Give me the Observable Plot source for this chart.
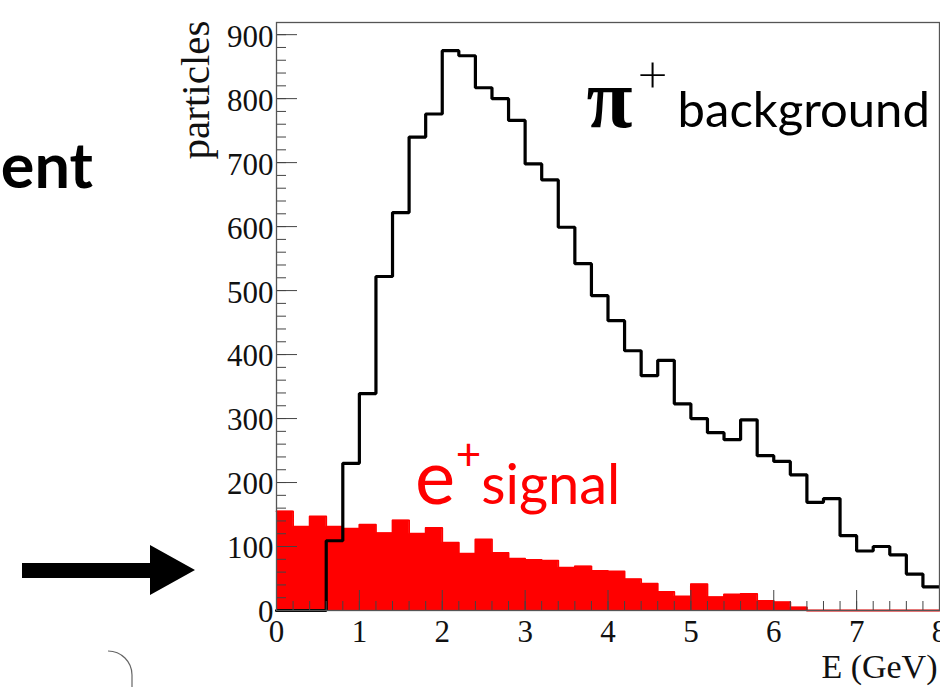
<!DOCTYPE html>
<html><head><meta charset="utf-8">
<script src="https://cdn.jsdelivr.net/npm/d3@7"></script>
<script src="https://cdn.jsdelivr.net/npm/@observablehq/plot@0.6"></script>
<style>
html,body{margin:0;padding:0;background:#fff;}
#wrap{position:relative;width:940px;height:687px;overflow:hidden;background:#fff;}
#chart{position:absolute;left:0;top:0;}
#deco{position:absolute;left:0;top:0;pointer-events:none;}
</style></head><body>
<div id="wrap"><div id="chart"></div>
<svg id="deco" width="940" height="687">
  <text x="93" y="188" text-anchor="end" font-family="Lato" font-weight="bold" font-size="63" fill="#000">ent</text>
  <polygon points="22,563 150,563 150,545 195,570 150,595 150,578 22,578" fill="#000"/>
  <path d="M108,651 A24,24 0 0 1 132,675 L132,687" fill="none" stroke="#666" stroke-width="1.2"/>
</svg>
</div>
<script>
// bin lower edges (GeV), bin width 0.2
const binEdges = [0,0.2,0.4,0.6,0.8,1.0,1.2,1.4,1.6,1.8,2.0,2.2,2.4,2.6,2.8,3.0,3.2,3.4,3.6,3.8,
                  4.0,4.2,4.4,4.6,4.8,5.0,5.2,5.4,5.6,5.8,6.0,6.2,6.4,6.6,6.8,7.0,7.2,7.4,7.6,7.8];
const binEnd = 8;
// pi+ background counts
const pionCounts = [0,0,0,109,230,339,522,622,740,776,875,867,817,800,766,698,673,599,542,492,
                    453,406,367,391,323,300,278,267,298,242,233,212,169,175,117,93,100,87,57,37];
// e+ signal counts
const positronCounts = [155,131,147,131,128,134,121,141,120,129,106,89,111,90,81,79,78,67,69,62,
                        61,49,42,29,22,41,21,25,26,15,13,5,0,0,0,0,0,0,0,0];
const yMajor = [0,100,200,300,400,500,600,700,800,900];
const xMajor = [0,1,2,3,4,5,6,7,8];
const yMinor = d3.range(0, 920, 20);
const xMinor = d3.range(0, 8.01, 0.2);

// annotation anchors (data coords)
const piLabel = [{x:3.74, y:755}];
const piPlus = [{x:4.537, y:836}];
const bgLabel = [{x:4.84, y:755}];
const eLabel = [{x:1.67, y:167}];
const ePlus = [{x:2.317, y:241}];
const sigLabel = [{x:2.47, y:167}];

const toPts = counts => binEdges.map((x,i)=>({x, y:counts[i]})).concat([{x:binEnd, y:counts[counts.length-1]}]);
const piPts = toPts(pionCounts);
const ePts = toPts(positronCounts);

const W = 940, H = 687, mL = 276, mR = 1, mT = 22, mB = 77;
const pw = W - mL - mR, ph = H - mT - mB;
const serif = "'Liberation Serif', 'Times New Roman', serif";
const sans = "Lato, 'Open Sans', sans-serif";

const chart = Plot.plot({
  width: W, height: H,
  marginLeft: mL, marginRight: mR, marginTop: mT, marginBottom: mB,
  x: {domain: [0, 8]},
  y: {domain: [0, 919]},
  style: {fontFamily: serif, fontSize: "31px", background: "transparent", color: "#111", overflow: "visible"},
  marks: [
    Plot.areaY(ePts, {x: "x", y: "y", curve: "step-after", fill: "#ff0000"}),
    Plot.line(ePts, {x: "x", y: "y", curve: "step-after", stroke: "#ff0000", strokeWidth: 1.8}),
    Plot.line(piPts, {x: "x", y: "y", curve: "step-after", stroke: "#000", strokeWidth: 3.2, strokeLinejoin: "miter"}),
    Plot.tickY(yMinor, {y: d => d, insetRight: pw - 10, stroke: "#444", strokeWidth: 1}),
    Plot.tickY(yMajor, {y: d => d, insetRight: pw - 21, stroke: "#444", strokeWidth: 1}),
    Plot.tickX(xMinor, {x: d => d, insetTop: ph - 9, stroke: "#444", strokeWidth: 1}),
    Plot.tickX(xMajor, {x: d => d, insetTop: ph - 20, stroke: "#444", strokeWidth: 1}),
    Plot.frame({stroke: "#555", strokeWidth: 1.3}),
    Plot.axisY({ticks: yMajor, tickSize: 0, tickPadding: 3, dy: 2, label: null, fontSize: 31}),
    Plot.axisX({ticks: xMajor, tickSize: 0, tickPadding: 9, label: null, fontSize: 31}),
    Plot.text(["particles"], {text: d => d, frameAnchor: "top-left", rotate: -90, textAnchor: "end", lineAnchor: "bottom", dx: -68, dy: -2, fontSize: 41, fontFamily: serif, fill: "#111"}),
    Plot.text(["E (GeV)"], {text: d => d, frameAnchor: "bottom-right", textAnchor: "end", lineAnchor: "bottom", dx: -2, dy: 67, fontSize: 34, fontFamily: serif, fill: "#111"}),
    Plot.text(piLabel, {x: "x", y: "y", text: () => "π", textAnchor: "start", lineAnchor: "bottom", fontSize: 84, fontWeight: "bold", fontFamily: serif, fill: "#000"}),
    Plot.text(piPlus, {x: "x", y: "y", text: () => "+", textAnchor: "middle", lineAnchor: "middle", fontSize: 52, fontWeight: 300, fontFamily: sans, fill: "#000"}),
    Plot.text(bgLabel, {x: "x", y: "y", text: () => "background", textAnchor: "start", lineAnchor: "bottom", fontSize: 49, fontFamily: sans, fill: "#000"}),
    Plot.text(eLabel, {x: "x", y: "y", text: () => "e", textAnchor: "start", lineAnchor: "bottom", fontSize: 76, fontFamily: sans, fill: "#ff0000"}),
    Plot.text(ePlus, {x: "x", y: "y", text: () => "+", textAnchor: "middle", lineAnchor: "middle", fontSize: 44, fontFamily: sans, fill: "#ff0000"}),
    Plot.text(sigLabel, {x: "x", y: "y", text: () => "signal", textAnchor: "start", lineAnchor: "bottom", fontSize: 56, fontFamily: sans, fill: "#ff0000"})
  ]
});
document.getElementById("chart").appendChild(chart);
</script>
</body></html>
